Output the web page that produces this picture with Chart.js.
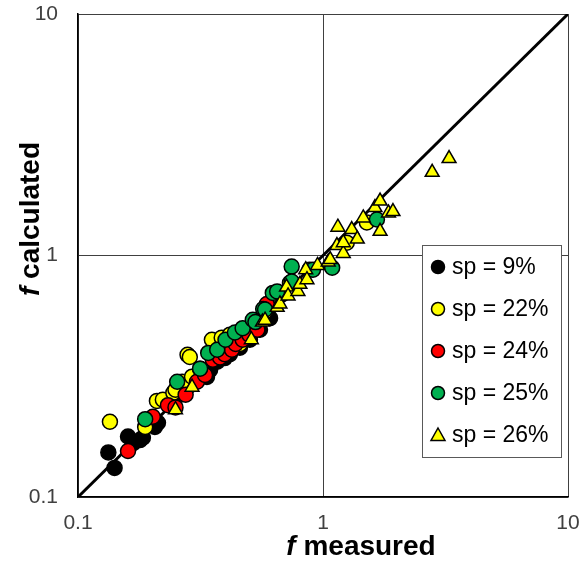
<!DOCTYPE html>
<html>
<head>
<meta charset="utf-8">
<title>f calculated vs f measured</title>
<script src="https://cdn.jsdelivr.net/npm/chart.js@4.4.1/dist/chart.umd.min.js"></script>
<style>
  html, body { margin: 0; padding: 0; background: #fff; }
  #wrap { width: 583px; height: 562px; }
</style>
</head>
<body>
<div id="wrap"><canvas id="c" width="583" height="562"></canvas></div>
<script>
// sp = 9%
var sp9x = [0.133, 0.141, 0.16, 0.179, 0.184, 0.168, 0.206, 0.212, 0.238, 0.261, 0.286, 0.315, 0.336, 0.346, 0.37, 0.397, 0.417, 0.458, 0.503, 0.553, 0.608, 0.68];
var sp9y = [0.153, 0.132, 0.178, 0.172, 0.176, 0.167, 0.195, 0.203, 0.24, 0.265, 0.29, 0.32, 0.314, 0.336, 0.363, 0.376, 0.39, 0.415, 0.448, 0.493, 0.55, 0.69];
// sp = 22%
var sp22x = [0.135, 0.188, 0.21, 0.222, 0.245, 0.25, 0.266, 0.28, 0.286, 0.292, 0.315, 0.352, 0.386, 0.417, 0.458, 0.48, 0.53, 0.58, 0.733, 1.25, 1.51];
var sp22y = [0.205, 0.195, 0.25, 0.253, 0.27, 0.278, 0.30, 0.388, 0.38, 0.315, 0.34, 0.448, 0.457, 0.47, 0.43, 0.493, 0.53, 0.585, 0.77, 1.13, 1.37];
// sp = 24%
var sp24x = [0.16, 0.202, 0.233, 0.25, 0.275, 0.306, 0.33, 0.355, 0.38, 0.397, 0.425, 0.44, 0.47, 0.50, 0.54, 0.59];
var sp24y = [0.155, 0.215, 0.24, 0.235, 0.265, 0.30, 0.32, 0.37, 0.378, 0.39, 0.407, 0.43, 0.448, 0.47, 0.493, 0.63];
// sp = 25%
var sp25x = [0.188, 0.254, 0.315, 0.34, 0.37, 0.40, 0.437, 0.47, 0.517, 0.53, 0.57, 0.58, 0.624, 0.65, 0.745, 0.745, 0.88, 0.91, 1.09, 1.66];
var sp25y = [0.21, 0.30, 0.34, 0.395, 0.407, 0.448, 0.48, 0.50, 0.542, 0.53, 0.60, 0.597, 0.70, 0.71, 0.90, 0.78, 0.874, 0.874, 0.89, 1.41];
// sp = 26%
var sp26x = [0.25, 0.292, 0.51, 0.566, 0.58, 0.65, 0.667, 0.71, 0.72, 0.79, 0.805, 0.85, 0.86, 0.95, 1.05, 1.07, 1.14, 1.15, 1.21, 1.21, 1.31, 1.38, 1.46, 1.63, 1.71, 1.71, 1.85, 1.93, 2.79, 3.27];
var sp26y = [0.23, 0.285, 0.448, 0.53, 0.54, 0.61, 0.63, 0.74, 0.68, 0.71, 0.76, 0.874, 0.794, 0.91, 0.94, 0.962, 1.10, 1.31, 1.02, 1.13, 1.28, 1.17, 1.43, 1.58, 1.68, 1.26, 1.50, 1.52, 2.21, 2.52];

var seriesNames = ['sp = 9%', 'sp = 22%', 'sp = 24%', 'sp = 25%', 'sp = 26%'];
var seriesColors = ['#000000', '#FFFF00', '#FF0000', '#00B050', '#FFFF00'];
var seriesShapes = ['circle', 'circle', 'circle', 'circle', 'triangle'];
var seriesX = [sp9x, sp22x, sp24x, sp25x, sp26x];
var seriesY = [sp9y, sp22y, sp24y, sp25y, sp26y];

var axisTicks = [0.1, 1, 10];
var oneToOne = [0.1, 10];

function pairs(xs, ys) {
  var out = [];
  for (var i = 0; i < xs.length; i++) out.push({ x: xs[i], y: ys[i] });
  return out;
}

var datasets = [];
for (var i = 0; i < seriesNames.length; i++) {
  var tri = seriesShapes[i] === 'triangle';
  datasets.push({
    label: seriesNames[i],
    data: pairs(seriesX[i], seriesY[i]),
    pointStyle: seriesShapes[i],
    pointRadius: tri ? 8 : 7.5,
    pointBackgroundColor: seriesColors[i],
    pointBorderColor: '#000',
    pointBorderWidth: 1.5,
    order: seriesNames.length - i   // later series end up on top
  });
}
datasets.push({
  label: '1:1',
  data: pairs(oneToOne, oneToOne),
  showLine: true,
  borderColor: '#000',
  borderWidth: 3,
  pointRadius: 0,
  order: 99
});

// f in italics, rest bold, like the original axis captions
var axisTitles = {
  id: 'axisTitles',
  afterDraw: function (chart) {
    var ctx = chart.ctx;
    var fi = 'italic bold 28px "Liberation Sans", Arial, sans-serif';
    var fb = 'bold 28px "Liberation Sans", Arial, sans-serif';
    ctx.save();
    ctx.fillStyle = '#000';
    ctx.textBaseline = 'alphabetic';
    ctx.textAlign = 'left';

    ctx.font = fi;
    var wf = ctx.measureText('f ').width;
    ctx.font = fb;
    var wm = ctx.measureText('measured').width;
    var x0 = 361 - (wf + wm) / 2;
    ctx.font = fi;
    ctx.fillText('f ', x0, 555);
    ctx.font = fb;
    ctx.fillText('measured', x0 + wf, 555);

    ctx.font = fb;
    var wc = ctx.measureText('calculated').width;
    ctx.translate(39, 219);
    ctx.rotate(-Math.PI / 2);
    var y0 = -(wf + wc) / 2;
    ctx.font = fi;
    ctx.fillText('f ', y0, 0);
    ctx.font = fb;
    ctx.fillText('calculated', y0 + wf, 0);
    ctx.restore();
  }
};

// boxed legend sitting inside the plot
var boxLegend = {
  id: 'boxLegend',
  afterDraw: function (chart) {
    var ctx = chart.ctx;
    var bx = 422, by = 245, bw = 139, bh = 212;
    ctx.save();
    ctx.fillStyle = '#fff';
    ctx.fillRect(bx, by, bw, bh);
    ctx.strokeStyle = '#595959';
    ctx.lineWidth = 1;
    ctx.strokeRect(bx + 0.5, by + 0.5, bw, bh);
    ctx.font = '23px "Liberation Sans", Arial, sans-serif';
    ctx.textBaseline = 'middle';
    for (var i = 0; i < seriesNames.length; i++) {
      var cy = by + 22 + i * 42;
      var cx = bx + 16;
      ctx.beginPath();
      if (seriesShapes[i] === 'triangle') {
        ctx.moveTo(cx, cy - 7);
        ctx.lineTo(cx + 7, cy + 5.5);
        ctx.lineTo(cx - 7, cy + 5.5);
        ctx.closePath();
      } else {
        ctx.arc(cx, cy, 6.5, 0, Math.PI * 2);
      }
      ctx.fillStyle = seriesColors[i];
      ctx.fill();
      ctx.strokeStyle = '#000';
      ctx.lineWidth = 1.5;
      ctx.stroke();
      ctx.fillStyle = '#000';
      ctx.fillText(seriesNames[i], bx + 30, cy + 1);
    }
    ctx.restore();
  }
};

function logAxis(pos) {
  return {
    type: 'logarithmic',
    position: pos,
    min: 0.1,
    max: 10,
    afterBuildTicks: function (scale) {
      scale.ticks = axisTicks.map(function (v) { return { value: v }; });
    },
    afterFit: function (scale) {
      // fixed axis band, and no extra room for the end labels
      if (pos === 'left') {
        scale.width = 78;
        scale.paddingTop = 0;
        scale.paddingBottom = 0;
      } else {
        scale.height = 65;
        scale.paddingLeft = 0;
        scale.paddingRight = 0;
      }
    },
    ticks: {
      autoSkip: false,
      maxRotation: 0,
      padding: pos === 'left' ? 20 : 14,
      color: '#404040',
      font: { family: '"Liberation Sans", Arial, sans-serif', size: 21 },
      callback: function (v) { return String(v); }
    },
    grid: { color: '#404040', lineWidth: 1, drawTicks: false },
    border: { color: '#000', width: 1.5 }
  };
}

new Chart(document.getElementById('c'), {
  type: 'scatter',
  data: { datasets: datasets },
  options: {
    responsive: false,
    animation: false,
    layout: { padding: { top: 14, right: 15, left: 0, bottom: 0 } },
    plugins: { legend: { display: false }, tooltip: { enabled: false } },
    scales: { x: logAxis('bottom'), y: logAxis('left') }
  },
  plugins: [axisTitles, boxLegend]
});
</script>
</body>
</html>
